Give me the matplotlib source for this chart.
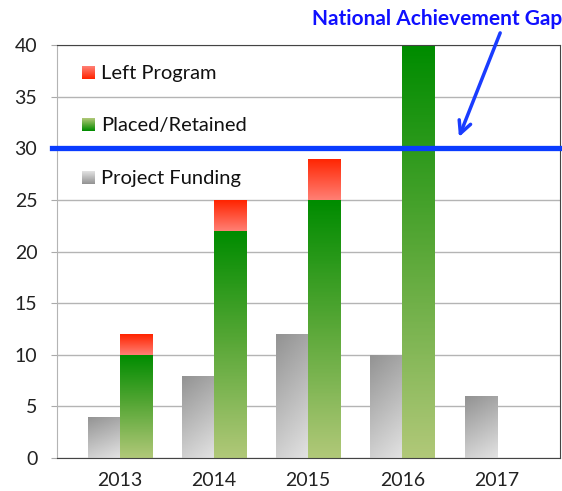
import numpy as np
import matplotlib.pyplot as plt
from matplotlib.colors import LinearSegmentedColormap

years = ["2013", "2014", "2015", "2016", "2017"]
funding = [4, 8, 12, 10, 6]
placed = [10, 22, 25, 40, 0]
left_prog = [2, 3, 4, 0, 0]
gap = 30

plt.rcParams['font.family'] = ['Lato', 'DejaVu Sans']

gray_cm = LinearSegmentedColormap.from_list("g", ["#e2e2e2", "#939393"])
green_cm = LinearSegmentedColormap.from_list("gr", ["#b0c878", "#5aa838", "#008c00"])
red_cm = LinearSegmentedColormap.from_list("r", ["#ff7f74", "#ff2400"])


def grad_fill(ax, patches, cmap, diag=0.0):
    for p in patches:
        x, y = p.get_x(), p.get_y()
        w, h = p.get_width(), p.get_height()
        if h <= 0:
            continue
        yy, xx = np.mgrid[0:1:64j, 0:1:16j]
        img = yy + diag * (1 - xx) * 0.3
        im = ax.imshow(img, cmap=cmap, origin="lower", aspect="auto",
                       extent=[x, x + w, y, y + h], vmin=0, vmax=1 + diag * 0.3,
                       zorder=p.get_zorder())
        im.set_clip_path(p)
        p.set_facecolor("none")


fig = plt.figure(figsize=(5.62, 4.91), dpi=100)
ax = fig.add_axes([0.101, 0.067, 0.895, 0.841])

x = np.arange(len(years))
w = 0.34
b1 = ax.bar(x - w / 2, funding, w, edgecolor="none", zorder=2)
b2 = ax.bar(x + w / 2, placed, w, edgecolor="none", zorder=2)
b3 = ax.bar(x + w / 2, left_prog, w, bottom=placed, edgecolor="none", zorder=2)
grad_fill(ax, b1, gray_cm, diag=1.0)
grad_fill(ax, b2, green_cm)
grad_fill(ax, b3, red_cm)

ax.set_xlim(-0.67, 4.67)
ax.set_ylim(0, 40)
ax.set_yticks(range(0, 41, 5))
ax.set_xticks(x)
ax.set_xticklabels(years)
ax.tick_params(axis="both", labelsize=14, colors="#222222")
ax.tick_params(axis="x", length=0, pad=10)
ax.tick_params(axis="y", length=4, color="#aaaaaa", pad=10)
ax.grid(axis="y", color="#b4b4b4", lw=1, zorder=0)
ax.set_axisbelow(True)
ax.spines["left"].set_color("#b4b4b4")
for s in ["top", "bottom", "right"]:
    ax.spines[s].set_color("#444444")

ax.axhline(gap, color="#0a3cff", lw=3.8, zorder=5, clip_on=False,
           xmin=-0.01, xmax=1.0)

# legend
labels = ["Left Program", "Placed/Retained", "Project Funding"]
cmaps = [red_cm, green_cm, gray_cm]
ys = [0.932, 0.806, 0.678]
for lab, cm, yv in zip(labels, cmaps, ys):
    sq = np.linspace(0, 1, 32).reshape(-1, 1)
    ax.imshow(np.hstack([sq, sq]), cmap=cm, origin="upper", aspect="auto",
              extent=[0.05, 0.074, yv - 0.015, yv + 0.015],
              transform=ax.transAxes, zorder=6)
    ax.text(0.088, yv, lab, transform=ax.transAxes, va="center", ha="left",
            fontsize=14.5, color="#111111", zorder=6)

fig.text(0.777, 0.961, "National Achievement Gap", ha="center", va="center",
         fontsize=15, fontweight="bold", color="#1010ff")
ax.annotate("", xy=(3.6, 31.1), xycoords="data",
            xytext=(0.89, 0.933), textcoords="figure fraction",
            arrowprops=dict(arrowstyle="->", color="#1a3cff", lw=2.5,
                            mutation_scale=22, shrinkA=0, shrinkB=0))

fig.savefig("out.png", dpi=100)
